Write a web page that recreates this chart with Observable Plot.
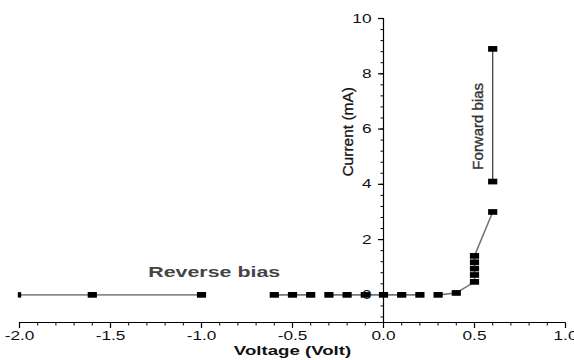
<!DOCTYPE html>
<html>
<head>
<meta charset="utf-8">
<script src="https://cdn.jsdelivr.net/npm/d3@7"></script>
<script src="https://cdn.jsdelivr.net/npm/@observablehq/plot@0.6"></script>
<style>
  html, body { margin: 0; padding: 0; background: #fff; }
  svg { font-family: "Liberation Sans", Arial, sans-serif; }
</style>
</head>
<body>
<div id="chart"></div>
<script>
// ---- data ----
const reverseV = [-2.0, -1.6, -1.0];
const reverseI = [0, 0, 0];

const lowV   = [-0.6, -0.5, -0.4, -0.3, -0.2, -0.1, 0.0, 0.1, 0.2, 0.3, 0.4, 0.5, 0.5, 0.5, 0.5, 0.5, 0.6];
const lowI   = [0, 0, 0, 0, 0, 0, 0, 0, 0, 0, 0.07, 0.47, 0.72, 0.95, 1.18, 1.41, 3.0];
const lowSeg = [1, 1, 1, 2, 2, 2, 2, 2, 2, 3, 3, 3, 3, 3, 3, 3, 3];

const forwardV = [0.6, 0.6];
const forwardI = [4.1, 8.9];

const xMajor = [-2.0, -1.5, -1.0, -0.5, 0.0, 0.5, 1.0];
const xMinor = d3.range(-20, 11).map(d => d / 10);
const yMajor = [0, 2, 4, 6, 8, 10];
const yMinor = d3.range(-2, 26).map(d => d * 0.4);

const reverse = reverseV.map((v, i) => ({v, c: reverseI[i]}));
const low = lowV.map((v, i) => ({v, c: lowI[i], s: lowSeg[i]}));
const forward = forwardV.map((v, i) => ({v, c: forwardI[i]}));

// ---- custom symbols ----
const wideSquare = {draw(ctx, size) { const r = Math.sqrt(size / Math.PI); ctx.rect(-r, -r * 0.62, 2 * r, 1.24 * r); ctx.closePath(); }};
const narrowSquare = {draw(ctx, size) { const r = Math.sqrt(size / Math.PI); ctx.rect(-r * 0.38, -r * 0.6, 0.76 * r, 1.2 * r); ctx.closePath(); }};
const tickLeft = {draw(ctx, size) { const r = Math.sqrt(size / Math.PI); ctx.moveTo(-r, 0); ctx.lineTo(0, 0); }};
const tickDown = {draw(ctx, size) { const r = Math.sqrt(size / Math.PI); ctx.moveTo(0, 0); ctx.lineTo(0, r); }};

const chart = Plot.plot({
  width: 574,
  height: 360,
  marginLeft: 19,
  marginRight: 9,
  marginTop: 18,
  marginBottom: 38,
  style: {fontFamily: "Liberation Sans, Arial, sans-serif", background: "#fff"},
  x: {domain: [-2, 1], axis: null},
  y: {domain: [-1, 10], axis: null},
  marks: [
    // axes lines
    Plot.ruleY([-1], {stroke: "#000", strokeWidth: 1.2}),
    Plot.ruleX([0], {y1: -1, y2: 10, stroke: "#000", strokeWidth: 1.2}),
    // x ticks
    Plot.dot(xMinor, {x: d => d, y: -1, symbol: tickDown, r: 3, stroke: "#000", fill: "none", strokeWidth: 1}),
    Plot.dot(xMajor, {x: d => d, y: -1, symbol: tickDown, r: 5.5, stroke: "#000", fill: "none", strokeWidth: 1.2}),
    Plot.text(xMajor, {x: d => d, y: -1, dy: 13, text: d => d.toFixed(1), fontSize: 12.5, fill: "#111"}),
    // y ticks
    Plot.dot(yMinor, {x: 0, y: d => d, symbol: tickLeft, r: 3, stroke: "#000", fill: "none", strokeWidth: 1}),
    Plot.dot(yMajor, {x: 0, y: d => d, symbol: tickLeft, r: 5.5, stroke: "#000", fill: "none", strokeWidth: 1.2}),
    // axis titles
    Plot.text(["Voltage (Volt)"], {frameAnchor: "bottom", dy: 32, fontSize: 13.5, fontWeight: "bold", fill: "#111"}),
    Plot.text(["Current (mA)"], {x: 0, y: 5.9, dx: -35, rotate: -90, fontSize: 15.5, fill: "#111", stroke: "#111", strokeWidth: 0.3}),
    // annotations
    Plot.text(["Reverse bias"], {x: -0.93, y: 0.83, fontSize: 15.5, fontWeight: "bold", fill: "#444"}),
    Plot.text(["Forward bias"], {x: 0.52, y: 6.1, rotate: -90, fontSize: 15, fill: "#333", stroke: "#333", strokeWidth: 0.35}),
    // lines
    Plot.line(reverse, {x: "v", y: "c", stroke: "#8a8a8a", strokeWidth: 1.6}),
    Plot.line(low, {x: "v", y: "c", z: "s", stroke: "#777", strokeWidth: 1.6}),
    Plot.line(forward, {x: "v", y: "c", stroke: "#444", strokeWidth: 1.3}),
    // markers
    Plot.dot(reverse.slice(0, 1), {x: "v", y: "c", symbol: narrowSquare, r: 4.5, fill: "#000", stroke: "none"}),
    Plot.dot(reverse.slice(1), {x: "v", y: "c", symbol: wideSquare, r: 4.6, fill: "#000", stroke: "none"}),
    Plot.dot(low, {x: "v", y: "c", symbol: wideSquare, r: 4.6, fill: "#000", stroke: "none"}),
    Plot.dot(forward, {x: "v", y: "c", symbol: wideSquare, r: 4.6, fill: "#000", stroke: "none"}),
    // y tick labels (drawn last, the 0 overlaps the -0.1 marker as in the source)
    Plot.text(yMajor, {x: 0, y: d => d, dx: -12, textAnchor: "end", text: d => String(d), fontSize: 12.5, fill: "#111"})
  ]
});
document.getElementById("chart").appendChild(chart);

// the source figure is horizontally stretched: widen horizontal texts accordingly
d3.select(chart).selectAll("text").each(function () {
  const t = this.getAttribute("transform") || "";
  if (t.includes("rotate")) return;
  const w = this.getComputedTextLength();
  if (w > 0) {
    this.setAttribute("textLength", (w * 1.38).toFixed(1));
    this.setAttribute("lengthAdjust", "spacingAndGlyphs");
  }
});
</script>
</body>
</html>
